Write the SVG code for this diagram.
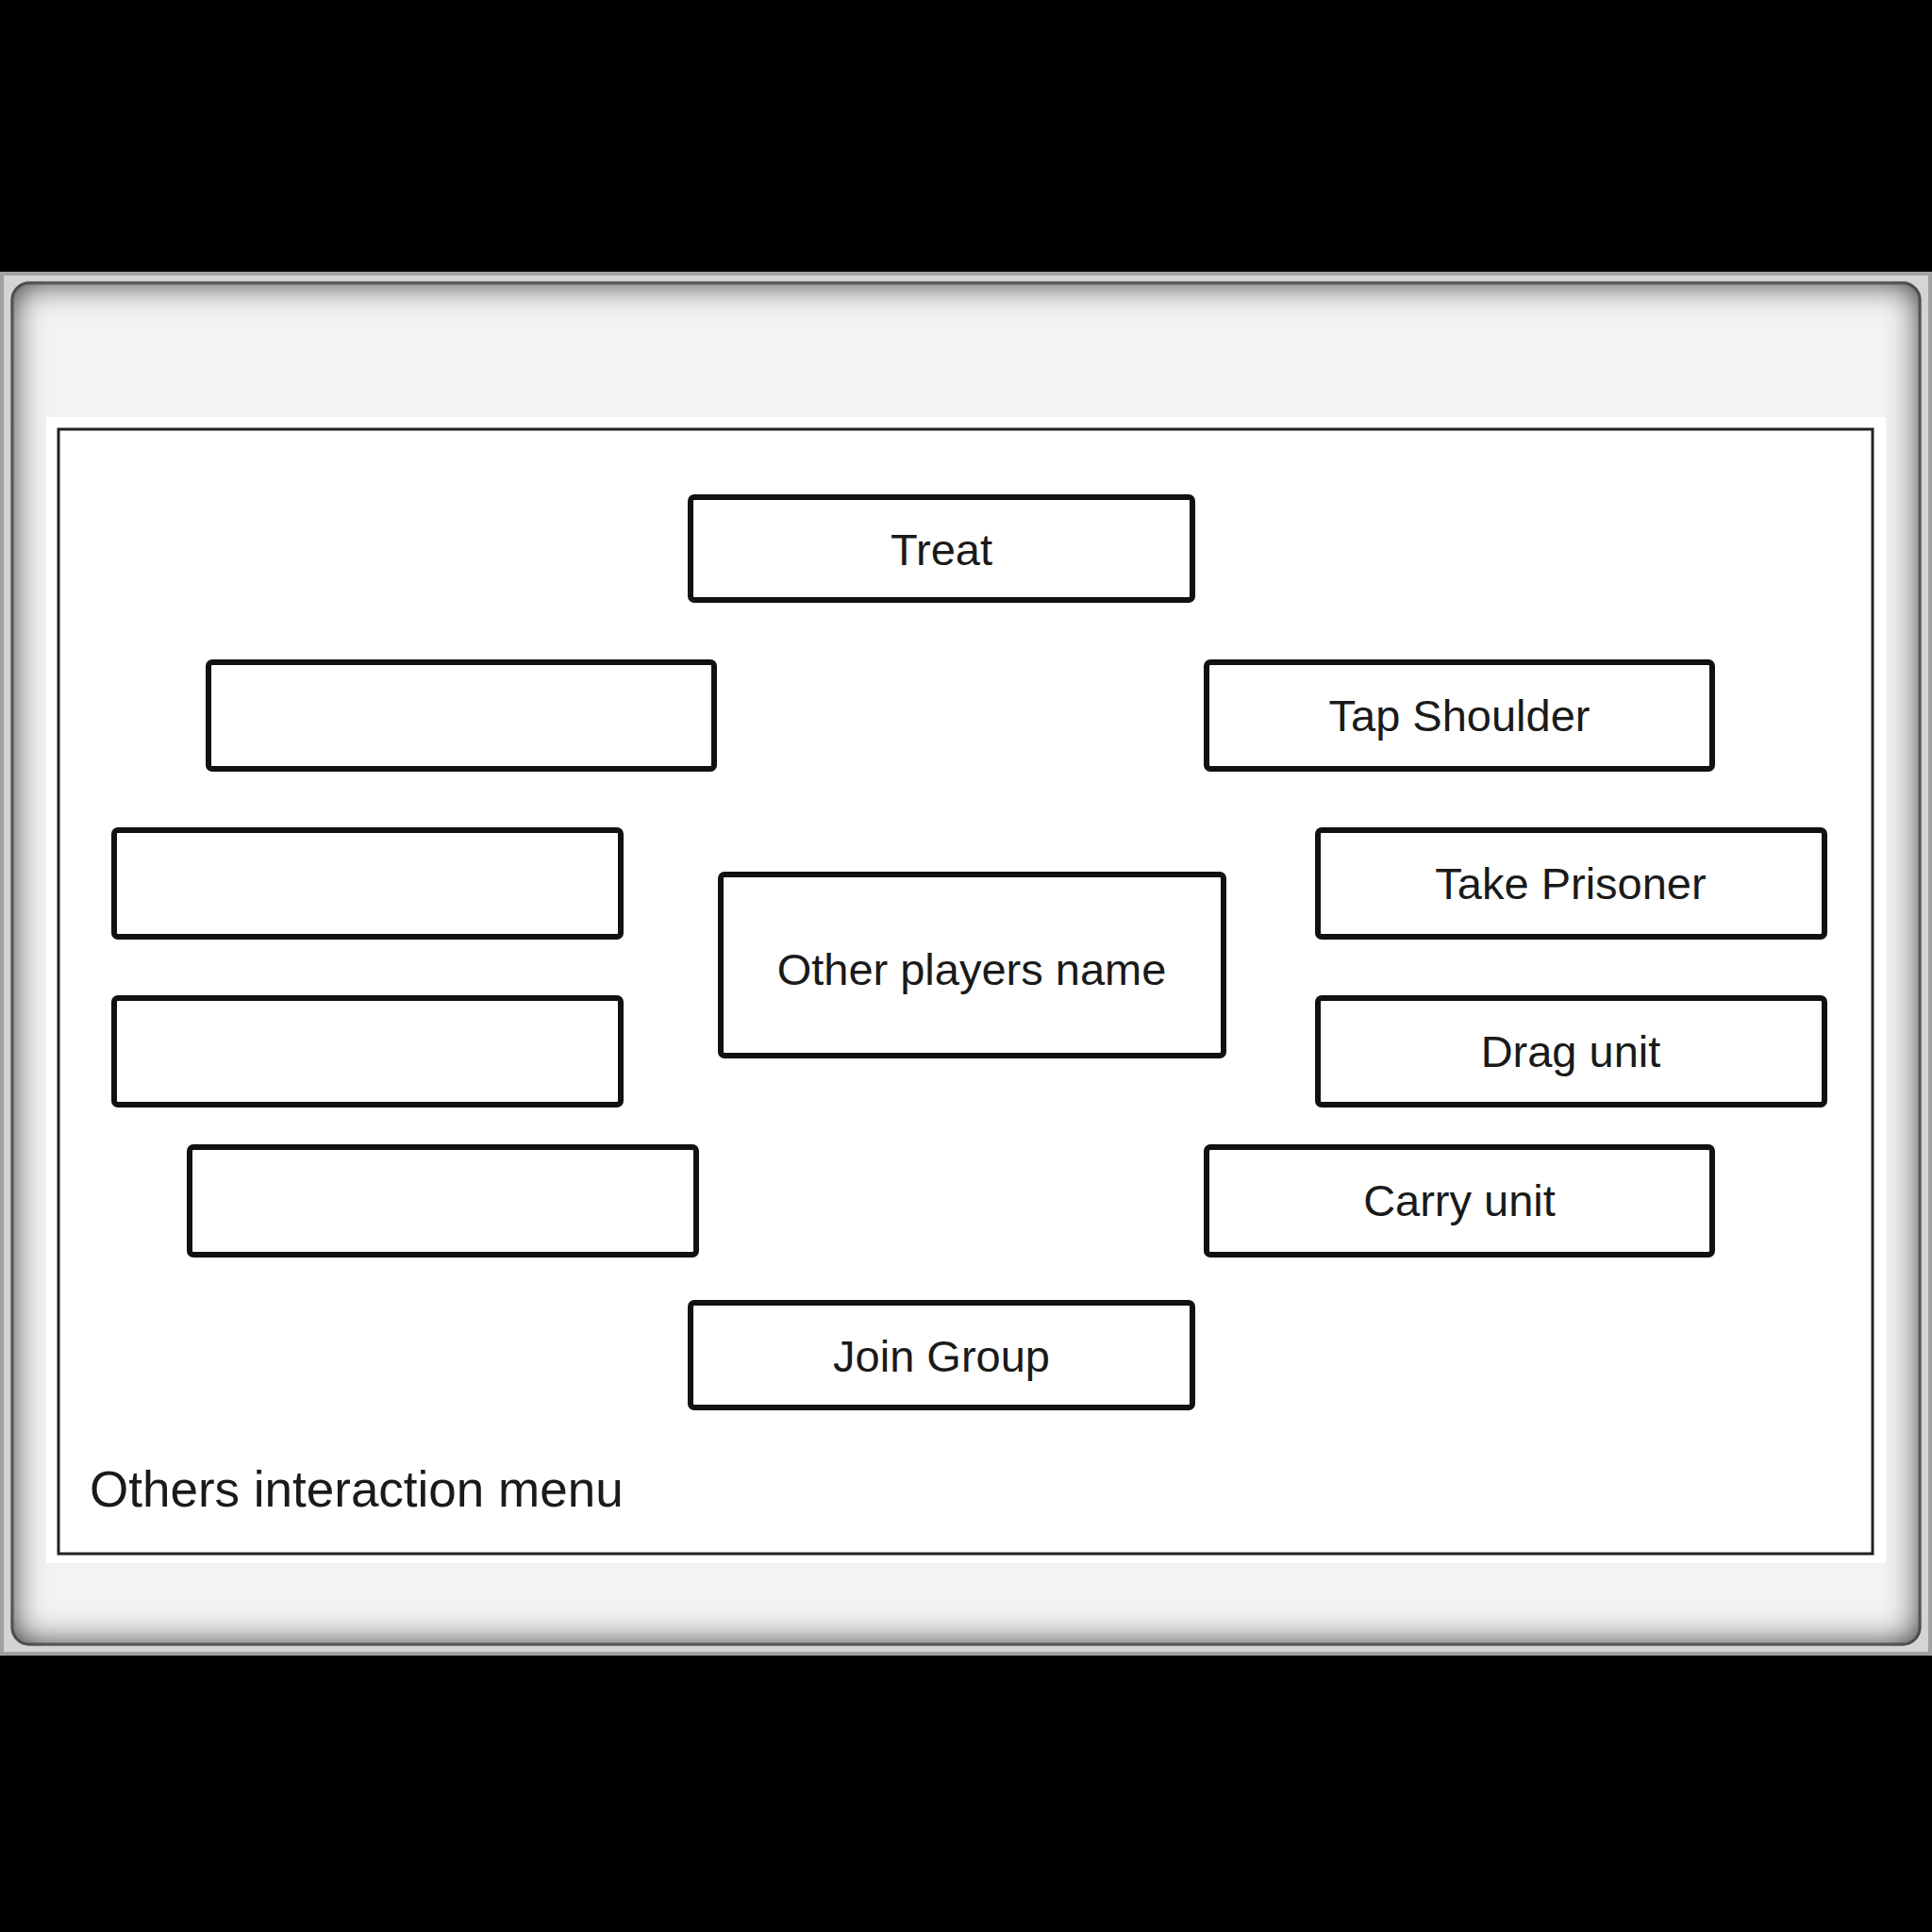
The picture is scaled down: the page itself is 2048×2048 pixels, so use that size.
<svg xmlns="http://www.w3.org/2000/svg" width="2048" height="2048" viewBox="0 0 2048 2048">
<style>
.node rect{fill:#fff;stroke:#111;stroke-width:6;}
.lbl{font-family:"Liberation Sans",Arial,sans-serif;font-size:47px;fill:#1a1a1a;text-anchor:middle;}
.title{font-family:"Liberation Sans",Arial,sans-serif;font-size:53px;fill:#1a1a1a;}
</style>
<defs>
<filter id="inset" x="-10%" y="-10%" width="120%" height="120%">
<feFlood flood-color="#444" result="f"/>
<feComposite in="f" in2="SourceAlpha" operator="out" result="inv"/>
<feGaussianBlur in="inv" stdDeviation="18" result="b"/>
<feComposite in="b" in2="SourceAlpha" operator="in" result="sh"/>
<feMerge><feMergeNode in="SourceGraphic"/><feMergeNode in="sh"/><feMergeNode in="sh"/></feMerge>
</filter>
<linearGradient id="edgeL" x1="0" y1="0" x2="1" y2="0">
<stop offset="0" stop-color="#9a9a9a"/><stop offset="1" stop-color="#e2e2e2"/>
</linearGradient>
</defs>
<rect x="0" y="0" width="2048" height="2048" fill="#000"/>
<g id="frame">
<rect x="0" y="288" width="2048" height="1467" fill="#d4d4d4"/>
<rect x="2" y="290" width="2044" height="1463" fill="none" stroke="#a0a0a0" stroke-width="4"/>
<rect x="13" y="300" width="2022" height="1443" rx="18" fill="#f3f3f3" stroke="#777" stroke-width="3" filter="url(#inset)"/>
<rect x="49" y="442" width="1950" height="1215" fill="#fff"/>
<rect x="62" y="455" width="1923" height="1192" fill="none" stroke="#222" stroke-width="3"/>
<text class="title" x="95" y="1597">Others interaction menu</text>
</g>
<g id="connectors"></g>
<g id="n-treat" class="node"><rect x="732" y="527" width="532" height="109" rx="4"/><text class="lbl" x="998" y="599">Treat</text></g>
<g id="n-left1" class="node"><rect x="221" y="702" width="536" height="113" rx="4"/></g>
<g id="n-tap" class="node"><rect x="1279" y="702" width="536" height="113" rx="4"/><text class="lbl" x="1547" y="775">Tap Shoulder</text></g>
<g id="n-left2" class="node"><rect x="121" y="880" width="537" height="113" rx="4"/></g>
<g id="n-prisoner" class="node"><rect x="1397" y="880" width="537" height="113" rx="4"/><text class="lbl" x="1665" y="953">Take Prisoner</text></g>
<g id="n-name" class="node"><rect x="764" y="927" width="533" height="192" rx="4"/><text class="lbl" x="1030" y="1044">Other players name</text></g>
<g id="n-left3" class="node"><rect x="121" y="1058" width="537" height="113" rx="4"/></g>
<g id="n-drag" class="node"><rect x="1397" y="1058" width="537" height="113" rx="4"/><text class="lbl" x="1665" y="1131">Drag unit</text></g>
<g id="n-left4" class="node"><rect x="201" y="1216" width="537" height="114" rx="4"/></g>
<g id="n-carry" class="node"><rect x="1279" y="1216" width="536" height="114" rx="4"/><text class="lbl" x="1547" y="1289">Carry unit</text></g>
<g id="n-join" class="node"><rect x="732" y="1381" width="532" height="111" rx="4"/><text class="lbl" x="998" y="1454">Join Group</text></g>
</svg>
